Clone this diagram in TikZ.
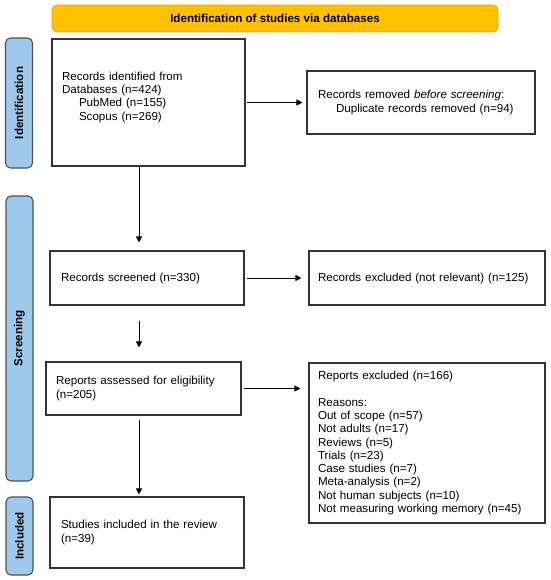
\documentclass[tikz,border=0pt]{standalone}
\usepackage{fontspec}
\setmainfont{Liberation Sans}
\usetikzlibrary{arrows.meta}

\definecolor{bannerfill}{HTML}{FFC000}
\definecolor{bannerline}{HTML}{E3AA00}
\definecolor{sidefill}{HTML}{9FC9EC}
\definecolor{sideline}{HTML}{46525C}
\definecolor{boxline}{HTML}{333333}

\tikzset{every node/.style={font=\fontsize{11.6}{13.3}\selectfont},
        box/.style={draw=boxline,line width=1.1pt,rectangle,align=left,inner ysep=0pt},
        banner/.style={draw=bannerline,fill=bannerfill,line width=0.8pt,rounded corners=5pt,
                minimum width=446pt,minimum height=27pt,font=\fontsize{11.6}{13.3}\selectfont\bfseries},
        sidelabel/.style={draw=sideline,fill=sidefill,line width=1.1pt,rounded corners=5pt,
                minimum height=27pt,rotate=90,font=\fontsize{11.6}{13.3}\selectfont\bfseries},
        flow/.style={line width=0.9pt,-{Triangle[length=6pt,width=6pt]}}}

\begin{document}
\begin{tikzpicture}[x=1pt,y=-1pt]
        \useasboundingbox (0,0) rectangle (550,580);

        \node[banner] (head) at (275,18.5) {Identification of studies via databases};

        \node[sidelabel,minimum width=130pt] (ident) at (19,103) {Identification};
        \node[sidelabel,minimum width=285pt] (screen) at (19.5,338.5) {Screening};
        \node[sidelabel,minimum width=78pt] (incl) at (19.5,536) {Included};

        \node[box,minimum width=193pt,minimum height=127pt,inner xsep=10pt,text width=173pt]
                (ident1) at (148.5,102.5) {Records identified from\\Databases (n=424)\\
                \hspace*{17pt}PubMed (n=155)\\\hspace*{17pt}Scopus (n=269)\\\mbox{}};
        \node[box,minimum width=228pt,minimum height=63pt,inner xsep=11pt,text width=206pt]
                (dup) at (421,102.5) {Records removed \emph{before screening}:\\
                \hspace*{18pt}Duplicate records removed (n=94)};
        \node[box,minimum width=194pt,minimum height=54pt,inner xsep=11pt,text width=172pt]
                (screened) at (147,278) {Records screened (n=330)};
        \node[box,minimum width=236pt,minimum height=54pt,inner xsep=9pt,text width=218pt]
                (excl) at (427,278) {Records excluded (not relevant) (n=125)};
        \node[box,minimum width=195pt,minimum height=53pt,inner xsep=10pt,text width=175pt]
                (assess) at (143.5,388.5) {Reports assessed for eligibility\\(n=205)};
        \node[box,minimum width=236pt,minimum height=160pt,inner xsep=9pt,text width=218pt]
                (rexcl) at (427,443) {Reports excluded (n=166)\\[13.3pt]Reasons:\\Out of scope (n=57)\\
                Not adults (n=17)\\Reviews (n=5)\\Trials (n=23)\\Case studies (n=7)\\
                Meta-analysis (n=2)\\Not human subjects (n=10)\\Not measuring working memory (n=45)};
        \node[box,minimum width=194pt,minimum height=71pt,inner xsep=11pt,text width=172pt]
                (incl1) at (147,532.5) {Studies included in the review\\(n=39)};

        \coordinate (col) at (139,0);

        \draw [flow,shorten <=1pt,shorten >=4pt] (ident1.east) -- (dup.west);
        \draw [flow,shorten <=2pt,shorten >=7pt] (screened.east) -- (excl.west);
        \draw [flow,shorten <=2pt,shorten >=8pt] (assess.east) -- (assess.east -| rexcl.west);

        \draw [flow,shorten >=8pt] (ident1.south -| col) -- (screened.north -| col);
        \draw [flow,shorten <=15pt,shorten >=14pt] (screened.south -| col) -- (assess.north -| col);
        \draw [flow,shorten <=4pt,shorten >=2pt] (assess.south -| col) -- (incl1.north -| col);
      \end{tikzpicture}
\end{document}
